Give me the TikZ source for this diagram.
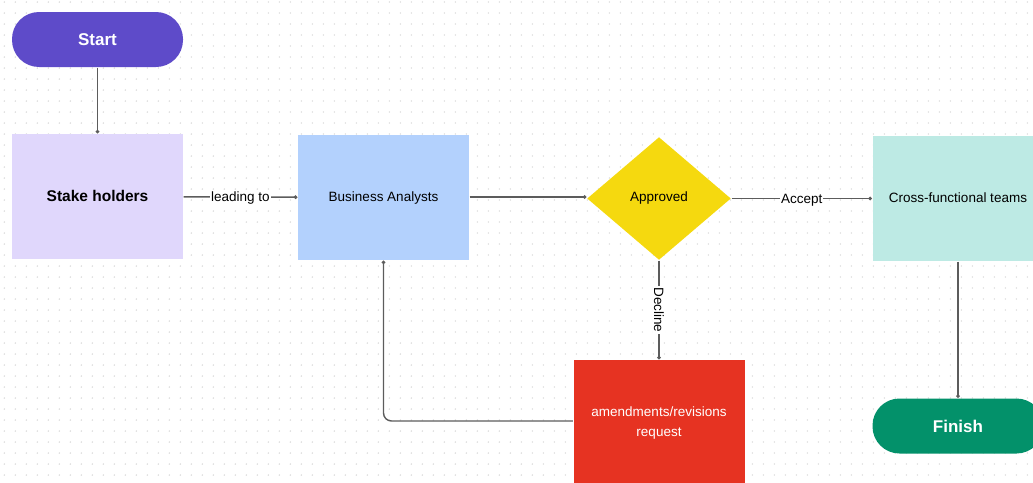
\documentclass[tikz,border=0pt]{standalone}
\usepackage{fontspec}
\setmainfont{Liberation Sans}
\usepackage{tikz}
\usetikzlibrary{arrows.meta}
\usetikzlibrary{shapes}

\definecolor{startc}{HTML}{5E4BC9}
\definecolor{stakec}{HTML}{E0D7FC}
\definecolor{bac}{HTML}{B3D1FD}
\definecolor{apprc}{HTML}{F5D90F}
\definecolor{teamc}{HTML}{BDEAE4}
\definecolor{amendc}{HTML}{E63322}
\definecolor{finishc}{HTML}{03916A}
\definecolor{linec}{HTML}{5C5C5C}
\definecolor{dotc}{HTML}{D8D8D8}

\begin{document}
\begin{tikzpicture}[x=1pt, y=-1pt, >={Circle[length=3.5pt]}]
                \tikzstyle{pill} = [rounded corners=27pt, minimum width=171pt, minimum height=55pt, inner sep=0pt, text=white, font=\fontsize{17}{20}\selectfont\bfseries]
                \tikzstyle{format} = [minimum width=171pt, minimum height=125pt, inner sep=0pt, align=center, text depth=1pt, font=\fontsize{13.5}{20}\selectfont]
                \tikzstyle{lbl} = [fill=white, inner sep=1pt, text depth=0pt, text=black, font=\fontsize{13.5}{16}\selectfont]
                \useasboundingbox (0,0) rectangle (1033,482);
                \clip (0,0) rectangle (1033,482);
                % dotted canvas
                \foreach \i in {0,...,93}
                        \foreach \j in {0,...,43}
                                \fill[dotc] (4.3+11*\i, 2+11*\j) circle (0.8);
                \begin{scope}
                        \path[-, draw=linec, line width=1.4pt]
                        node[pill, fill=startc] (start) at (97.5,39.5) {Start}
                        node[format, fill=stakec, font=\fontsize{15.5}{20}\selectfont\bfseries] (stake) at (97.5,196.5) {Stake holders}
                        node[format, fill=bac] (ba) at (383.5,197.5) {Business Analysts}
                        node[diamond, fill=apprc, minimum width=144pt, minimum height=123pt, inner sep=0pt, font=\fontsize{13.5}{16}\selectfont] (appr) at (659,198.5) {Approved}
                        node[format, fill=teamc] (team) at (958,198.5) {Cross-functional teams}
                        node[format, fill=amendc, text=white] (amend) at (659,422.5) {amendments/revisions\\request}
                        node[pill, fill=finishc] (finish) at (958,426) {Finish}

                        % main flow
                        (start) edge[->] (stake)
                        (stake) edge[->] node[lbl] {leading to} (ba)
                        (ba.east |- 0,197) edge[->] (appr.west |- 0,197)
                        (appr) edge[->] node[lbl] {Accept} (team)
                        (appr) edge[->] node[lbl, rotate=-90] {Decline} (amend)
                        (team) edge[->] (finish)

                        % back to analysts
                        (amend.west |- 0,421) edge[->, rounded corners=8pt, to path={-| (\tikztotarget)}] (ba.south)
                        ;
                \end{scope}
\end{tikzpicture}
\end{document}
